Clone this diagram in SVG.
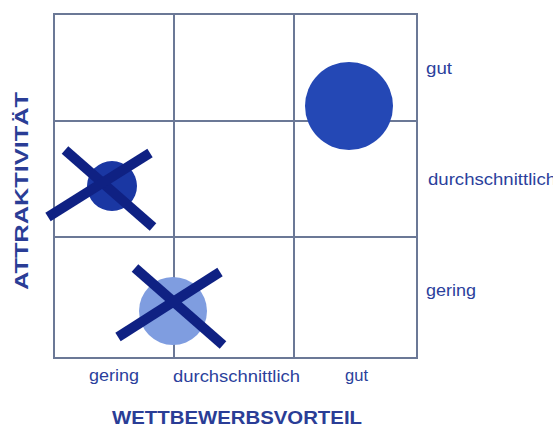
<svg xmlns="http://www.w3.org/2000/svg" width="553" height="427" viewBox="0 0 553 427">
<style>
.grid{fill:none;stroke:#6b7896;stroke-width:2}
.lbl{font-family:"Liberation Sans",Arial,sans-serif;font-size:17px;fill:#2b3f9c}
.axis{font-family:"Liberation Sans",Arial,sans-serif;font-size:19px;font-weight:bold;fill:#2a3d96}
.x{stroke:#0f2183;stroke-width:10;stroke-linecap:butt}
</style>
<rect width="553" height="427" fill="#ffffff"/>
<g id="grid">
<rect class="grid" x="54" y="14" width="363" height="344"/>
<line class="grid" x1="174" y1="14" x2="174" y2="358"/>
<line class="grid" x1="294" y1="14" x2="294" y2="358"/>
<line class="grid" x1="54" y1="121" x2="417" y2="121"/>
<line class="grid" x1="54" y1="237" x2="417" y2="237"/>
</g>
<g id="circle-gut">
<circle cx="349" cy="106" r="44" fill="#2448b5"/>
</g>
<g id="cross-mid">
<circle cx="112" cy="186" r="25" fill="#1a37a3"/>
<line class="x" x1="65" y1="150" x2="153" y2="227"/>
<line class="x" x1="48" y1="217" x2="150" y2="153"/>
</g>
<g id="cross-low">
<circle cx="173" cy="311" r="34" fill="#7f9de0"/>
<line class="x" x1="135" y1="268" x2="223" y2="345"/>
<line class="x" x1="118" y1="337" x2="220" y2="272"/>
</g>
<g id="labels-right">
<text class="lbl" x="426" y="74" textLength="26" lengthAdjust="spacingAndGlyphs">gut</text>
<text class="lbl" x="428" y="185" textLength="128" lengthAdjust="spacingAndGlyphs">durchschnittlich</text>
<text class="lbl" x="426" y="296" textLength="50" lengthAdjust="spacingAndGlyphs">gering</text>
</g>
<g id="labels-bottom">
<text class="lbl" x="89" y="381" textLength="50" lengthAdjust="spacingAndGlyphs">gering</text>
<text class="lbl" x="173" y="382" textLength="127" lengthAdjust="spacingAndGlyphs">durchschnittlich</text>
<text class="lbl" x="345" y="381" textLength="23" lengthAdjust="spacingAndGlyphs">gut</text>
</g>
<g id="axis-titles">
<text class="axis" x="112" y="424" textLength="250" lengthAdjust="spacingAndGlyphs">WETTBEWERBSVORTEIL</text>
<text class="axis" transform="translate(28,290) rotate(-90)" x="0" y="0" font-size="17" textLength="198" lengthAdjust="spacingAndGlyphs">ATTRAKTIVITÄT</text>
</g>
</svg>
